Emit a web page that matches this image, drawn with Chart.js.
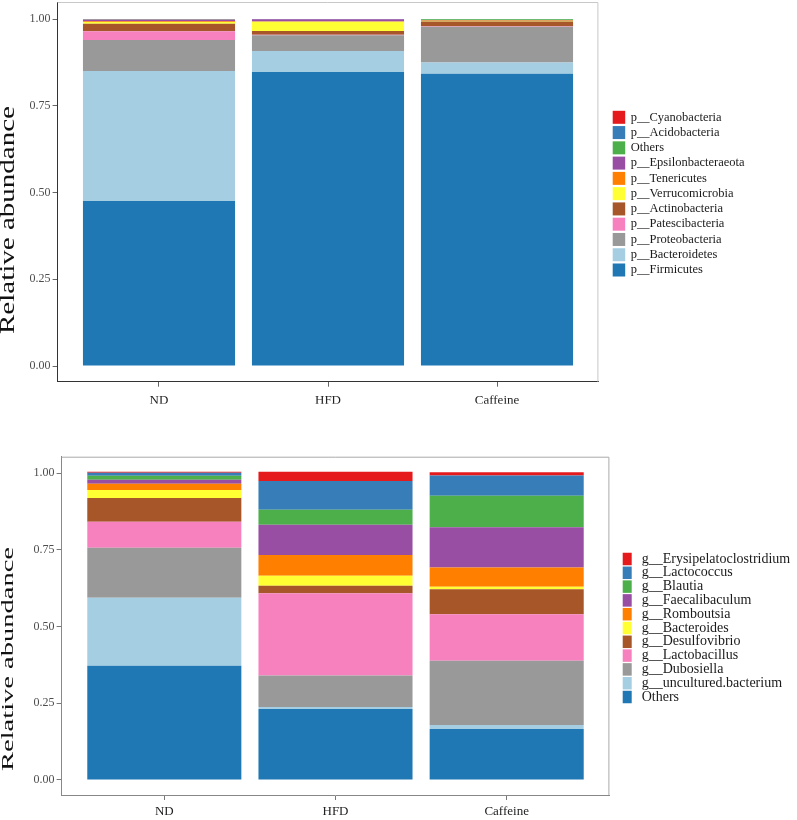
<!DOCTYPE html>
<html>
<head>
<meta charset="utf-8">
<script src="https://cdn.jsdelivr.net/npm/chart.js@4.4.1/dist/chart.umd.min.js"></script>
<style>
  html, body { margin: 0; padding: 0; background: #fff; }
  #wrap { position: relative; width: 797px; height: 820px; }
  canvas { position: absolute; left: 0; }
</style>
</head>
<body>
<div id="wrap">
  <canvas id="phylum" width="797" height="410" style="top:0"></canvas>
  <canvas id="genus" width="797" height="410" style="top:410px"></canvas>
</div>
<script>
// Groups and y ticks shared by both panels
const groups = ['ND', 'HFD', 'Caffeine'];
const yTicks = [0, 0.25, 0.5, 0.75, 1];

// Phylum level, listed from the bottom of the stack upwards
const phylumNames = ['p__Firmicutes', 'p__Bacteroidetes', 'p__Proteobacteria', 'p__Patescibacteria',
    'p__Actinobacteria', 'p__Verrucomicrobia', 'p__Tenericutes', 'p__Epsilonbacteraeota',
    'Others', 'p__Acidobacteria', 'p__Cyanobacteria'];
const pFirmicutes = [0.4755, 0.847, 0.842];
const pBacteroidetes = [0.3745, 0.061, 0.033];
const pProteobacteria = [0.0895, 0.0455, 0.103];
const pPatescibacteria = [0.025, 0.001, 0.001];
const pActinobacteria = [0.022, 0.0108, 0.0135];
const pVerrucomicrobia = [0.005, 0.0268, 0.002];
const pTenericutes = [0.002, 0.001, 0.001];
const pEpsilonbacteraeota = [0.004, 0.006, 0.001];
const pOthers = [0.001, 0.0005, 0.003];
const pAcidobacteria = [0.001, 0.0003, 0.0005];
const pCyanobacteria = [0.0005, 0.0001, 0.0003];
const phylumSeries = [pFirmicutes, pBacteroidetes, pProteobacteria, pPatescibacteria, pActinobacteria,
    pVerrucomicrobia, pTenericutes, pEpsilonbacteraeota, pOthers, pAcidobacteria, pCyanobacteria];

// Genus level, listed from the bottom of the stack upwards
const genusNames = ['Others', 'g__uncultured.bacterium', 'g__Dubosiella', 'g__Lactobacillus',
    'g__Desulfovibrio', 'g__Bacteroides', 'g__Romboutsia', 'g__Faecalibaculum',
    'g__Blautia', 'g__Lactococcus', 'g__Erysipelatoclostridium'];
const gOthers = [0.3727, 0.2315, 0.166];
const gUncultured = [0.2217, 0.0065, 0.013];
const gDubosiella = [0.163, 0.103, 0.2097];
const gLactobacillus = [0.0848, 0.268, 0.152];
const gDesulfovibrio = [0.0775, 0.024, 0.0815];
const gBacteroides = [0.026, 0.0326, 0.0075];
const gRomboutsia = [0.0205, 0.0675, 0.063];
const gFaecalibaculum = [0.013, 0.0988, 0.131];
const gBlautia = [0.013, 0.049, 0.103];
const gLactococcus = [0.0098, 0.0936, 0.066];
const gErysipelatoclostridium = [0.0033, 0.0303, 0.011];
const genusSeries = [gOthers, gUncultured, gDubosiella, gLactobacillus, gDesulfovibrio, gBacteroides,
    gRomboutsia, gFaecalibaculum, gBlautia, gLactococcus, gErysipelatoclostridium];

// Same palette order for both panels (bottom of stack first)
const palette = ['#1F78B4', '#A6CEE3', '#999999', '#F781BF', '#A65628', '#FFFF33',
    '#FF7F00', '#984EA3', '#4DAF4A', '#377EB8', '#E41A1C'];

const serif = '"Liberation Serif", "Times New Roman", serif';

// Draws the panel frame, the rotated y title and the legend
const decorations = {
    id: 'decorations',
    afterDraw(chart, args, o) {
        const ctx = chart.ctx;
        const a = chart.chartArea;
        ctx.save();

        // top and right sides of the panel frame
        ctx.strokeStyle = o.frameColor;
        ctx.lineWidth = 1;
        ctx.beginPath();
        ctx.moveTo(a.left, a.top + 0.5);
        ctx.lineTo(a.right - 0.5, a.top + 0.5);
        ctx.lineTo(a.right - 0.5, a.bottom);
        ctx.stroke();

        // y axis title, stretched along its length like the reference
        ctx.save();
        ctx.translate(o.titleX, o.titleY);
        ctx.rotate(-Math.PI / 2);
        ctx.font = o.titleSize + 'px ' + serif;
        const w = ctx.measureText(o.title).width;
        ctx.scale(o.titleLength / w, 1);
        ctx.fillStyle = '#111';
        ctx.textAlign = 'center';
        ctx.textBaseline = 'middle';
        ctx.fillText(o.title, 0, 0);
        ctx.restore();

        // legend, top entry = last dataset
        const items = chart.data.datasets.slice().reverse();
        ctx.font = o.legendSize + 'px ' + serif;
        ctx.textAlign = 'left';
        ctx.textBaseline = 'middle';
        items.forEach((d, i) => {
            const cy = o.legendY + i * o.legendStep;
            ctx.fillStyle = d.backgroundColor;
            ctx.fillRect(o.keyX, cy - o.keyH / 2, o.keyW, o.keyH);
            ctx.fillStyle = '#1a1a1a';
            ctx.fillText(d.label, o.textX, cy);
        });
        ctx.restore();
    }
};

function makeChart(id, names, series, geom, deco) {
    const datasets = series.map((vals, i) => ({
        label: names[i],
        data: vals.map((v, j) => ({ x: j + 1, y: v })),
        backgroundColor: palette[i],
        borderWidth: 0,
        stack: 'all',
        barPercentage: 0.9,
        categoryPercentage: 1
    }));

    return new Chart(document.getElementById(id), {
        type: 'bar',
        data: { datasets },
        options: {
            responsive: false,
            animation: false,
            layout: {
                padding: {
                    left: 0,
                    top: geom.top,
                    right: 797 - geom.right,
                    bottom: 410 - geom.bottom - 22
                }
            },
            plugins: {
                legend: { display: false },
                tooltip: { enabled: false },
                decorations: deco
            },
            scales: {
                x: {
                    type: 'linear',
                    min: 0.4,
                    max: 3.6,
                    offset: false,
                    afterBuildTicks: (scale) => { scale.ticks = groups.map((g, i) => ({ value: i + 1 })); },
                    afterFit: (scale) => {
                        scale.height = 22;
                        scale.paddingLeft = 0;
                        scale.paddingRight = 0;
                    },
                    grid: { offset: false, drawOnChartArea: false, tickLength: 5, color: geom.tickColor },
                    border: { display: true, color: geom.axisColor, width: 1 },
                    ticks: {
                        padding: geom.xPad,
                        color: '#222',
                        font: { family: serif, size: 13 },
                        callback: (v) => groups[v - 1]
                    }
                },
                y: {
                    stacked: true,
                    min: geom.yMin,
                    max: geom.yMax,
                    afterBuildTicks: (scale) => { scale.ticks = yTicks.map(v => ({ value: v })); },
                    afterFit: (scale) => {
                        scale.width = geom.left;
                        scale.paddingTop = 0;
                        scale.paddingBottom = 0;
                    },
                    grid: { drawOnChartArea: false, tickLength: 5, color: geom.tickColor },
                    border: { display: true, color: geom.axisColor, width: 1 },
                    ticks: {
                        padding: 2,
                        color: '#4d4d4d',
                        font: { family: serif, size: 12 },
                        callback: (v) => v.toFixed(2)
                    }
                }
            }
        },
        plugins: [decorations]
    });
}

makeChart('phylum', phylumNames, phylumSeries,
    { left: 57.6, right: 598.4, top: 2, bottom: 381.7, yMin: -0.045, yMax: 1.049,
      axisColor: '#333', tickColor: '#666', xPad: 6 },
    { frameColor: '#c8c8c8', title: 'Relative abundance', titleX: 8.5, titleY: 220,
      titleSize: 20, titleLength: 228,
      legendY: 117.3, legendStep: 15.27, keyX: 612.7, keyW: 12.5, keyH: 13,
      textX: 630.7, legendSize: 12.5 });

makeChart('genus', genusNames, genusSeries,
    { left: 61.6, right: 609.4, top: 46.7, bottom: 385, yMin: -0.049, yMax: 1.054,
      axisColor: '#888', tickColor: '#777', xPad: 4 },
    { frameColor: '#aaaaaa', title: 'Relative abundance', titleX: 8.5, titleY: 249,
      titleSize: 17, titleLength: 224,
      legendY: 149, legendStep: 13.8, keyX: 622.7, keyW: 9, keyH: 12.5,
      textX: 641.7, legendSize: 14 });
</script>
</body>
</html>
